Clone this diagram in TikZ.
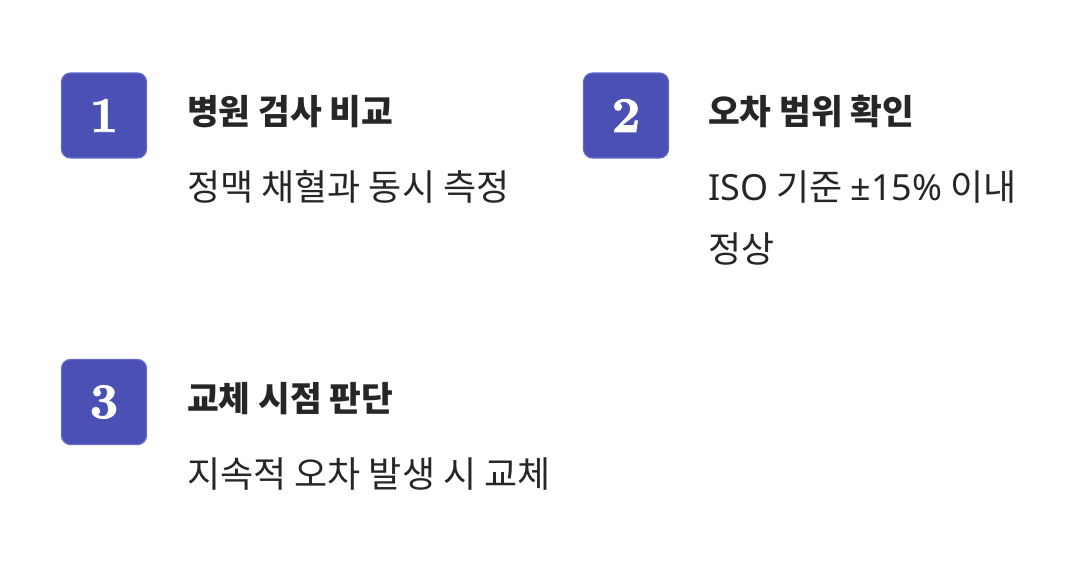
\documentclass[tikz,border=0pt]{standalone}
\usepackage{fontspec}
\newfontfamily\krfont{Noto Sans CJK KR}
\newfontfamily\latfont{Noto Sans}
\newfontfamily\numfont{lmroman10-bold.otf}[FakeBold=1.6]
\definecolor{boxfill}{HTML}{4B50B5}
\definecolor{boxline}{HTML}{6469CE}
\definecolor{txt}{HTML}{262626}
\begin{document}
\begin{tikzpicture}[x=1pt,y=-1pt,
  numbox/.style={draw=boxline, line width=1.2pt, fill=boxfill, rounded corners=9pt,
     minimum width=85pt, minimum height=85pt, inner sep=0pt, text=white,
     font=\numfont\fontsize{50}{50}\selectfont},
  titletxt/.style={anchor=base west, inner sep=0pt, text=txt,
     font=\krfont\bfseries\fontsize{34.5}{34.5}\selectfont},
  bodytxt/.style={anchor=base west, inner sep=0pt, text=txt, align=left,
     font=\krfont\fontsize{36}{62}\selectfont}]
\useasboundingbox (0,0) rectangle (1076,562);
\node[numbox] (n1) at (104,115.5) {1};
\node[numbox] (n2) at (626,115.5) {2};
\node[numbox] (n3) at (104,402) {3};
\node[titletxt] (t1) at (187,124) {병원 검사 비교};
\node[titletxt] (t2) at (708,124) {오차 범위 확인};
\node[titletxt] (t3) at (187,411) {교체 시점 판단};
\node[bodytxt] (b1) at (187,200) {정맥 채혈과 동시 측정};
\node[bodytxt] (b2) at (708,262) {{\latfont ISO} 기준 {\latfont ±15\%} 이내\\정상};
\node[bodytxt] (b3) at (187,487) {지속적 오차 발생 시 교체};
\end{tikzpicture}
\end{document}
